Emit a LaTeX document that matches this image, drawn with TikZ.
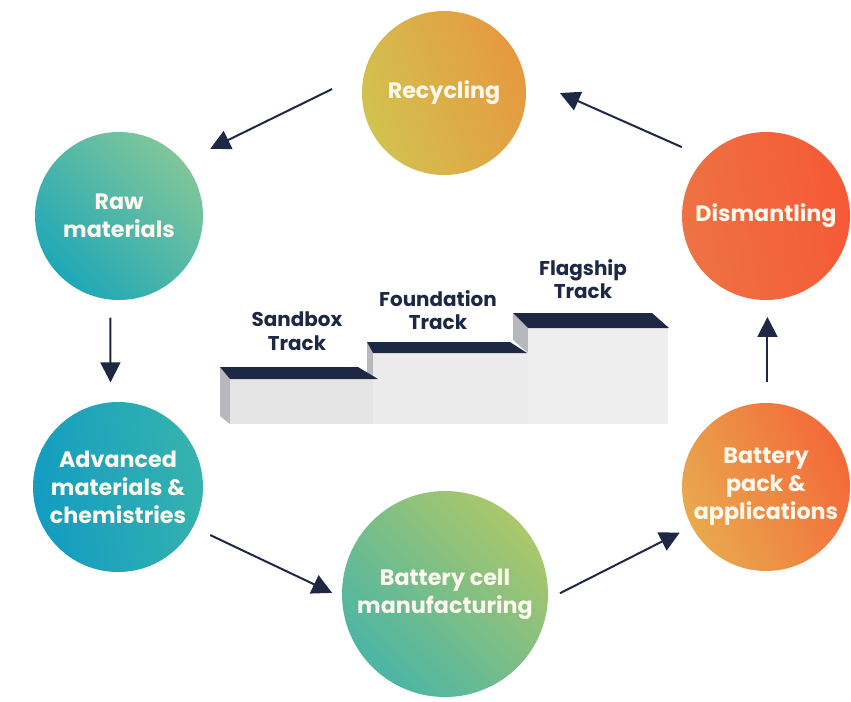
\documentclass[tikz,border=0pt]{standalone}
\usepackage{fontspec}
\setmainfont{Poppins}
\usetikzlibrary{arrows.meta}
\definecolor{navy}{HTML}{1D2845}
\definecolor{cream}{HTML}{FFF8EE}
\definecolor{sidegray}{HTML}{B7B8BD}
\definecolor{recA}{HTML}{D2C24F}
\definecolor{recB}{HTML}{E6993F}
\definecolor{rawA}{HTML}{1FA8B7}
\definecolor{rawB}{HTML}{80C69A}
\definecolor{advA}{HTML}{129CC1}
\definecolor{advB}{HTML}{36B3AE}
\definecolor{cellA}{HTML}{4BB5A5}
\definecolor{cellB}{HTML}{ABC76A}
\definecolor{packA}{HTML}{E9A94E}
\definecolor{packB}{HTML}{F36939}
\definecolor{disA}{HTML}{EE7244}
\definecolor{disB}{HTML}{F55935}
\tikzset{
  stage/.style={circle, inner sep=0pt, outer sep=0pt, minimum size=#1*0.06cm, align=center,
    text=cream, font=\bfseries\fontsize{19}{24}\selectfont},
  flow/.style={navy, line width=1.7pt, -{Triangle[length=17pt,width=17pt]}},
  track/.style={align=center, text=navy, font=\bfseries\fontsize{17}{20}\selectfont}
}
\begin{document}
\begin{tikzpicture}[x=0.03cm, y=-0.03cm]
  \useasboundingbox[fill=white] (0,0) rectangle (851,701);

  \node[stage=82, left color=recA, right color=recB, shading angle=110] (rec) at (444,93) {Recycling};
  \node[stage=84, left color=rawA, right color=rawB, shading angle=135] (raw) at (119,216) {Raw\\materials};
  \node[stage=85, left color=advA, right color=advB, shading angle=100] (adv) at (118,487) {Advanced\\materials \&\\chemistries};
  \node[stage=103, left color=cellA, right color=cellB, shading angle=135] (cell) at (445,594) {Battery cell\\manufacturing};
  \node[stage=84, left color=packA, right color=packB, shading angle=115] (pack) at (766,487) {Battery\\pack \&\\applications};
  \node[stage=84, left color=disA, right color=disB, shading angle=100] (dis) at (766,216) {Dismantling};

  \fill[sidegray] (513,313) -- (528,328) -- (528,353) -- (513,340) -- cycle;
  \fill[gray!13] (528,328) rectangle (668,424);
  \fill[sidegray] (367,342) -- (373,353) -- (373,379) -- (367,372) -- cycle;
  \fill[gray!16] (373,353) rectangle (528,424);
  \fill[sidegray] (220,367) -- (230,379) -- (230,424) -- (220,416) -- cycle;
  \fill[gray!20] (230,379) rectangle (373,424);
  \fill[navy] (220,367) -- (358,367) -- (378,379) -- (230,379) -- cycle;
  \fill[navy] (367,342) -- (510,342) -- (527,353) -- (373,353) -- cycle;
  \fill[navy] (513,313) -- (652,313) -- (669,328) -- (528,328) -- cycle;

  \node[track] (sandbox) at (297,331) {Sandbox\\Track};
  \node[track] (foundation) at (438,310) {Foundation\\Track};
  \node[track] (flagship) at (583,279) {Flagship\\Track};

  \draw[flow, shorten <=36*0.03cm, shorten >=30*0.03cm] (rec.166) -- (raw.40);
  \draw[flow, shorten <=18*0.03cm, shorten >=20*0.03cm] (raw.264) -- (adv.95);
  \draw[flow, shorten <=19*0.03cm, shorten >=11*0.03cm] (adv.332) -- (cell.182);
  \draw[flow, shorten <=13.5*0.03cm, shorten >=13.5*0.03cm] (cell.357) -- (pack.208);
  \draw[flow, shorten <=21*0.03cm, shorten >=17*0.03cm] (pack.89) -- (dis.271);
  \draw[flow, shorten <=26*0.03cm, shorten >=38.7*0.03cm] (dis.136) -- (rec.11);
\end{tikzpicture}
\end{document}
